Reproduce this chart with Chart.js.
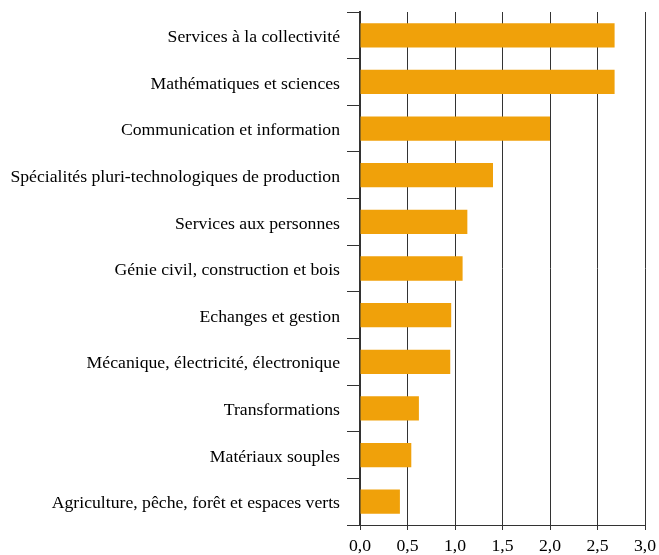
<!DOCTYPE html>
<html>
<head>
<meta charset="utf-8">
<script src="https://cdn.jsdelivr.net/npm/chart.js@4/dist/chart.umd.min.js"></script>
<style>
  html, body { margin: 0; padding: 0; background: #fff; }
  #wrap { width: 659px; height: 555px; }
</style>
</head>
<body>
<div id="wrap"><canvas id="myChart" width="659" height="555"></canvas></div>
<script>
const categories = [
    'Services à la collectivité',
    'Mathématiques et sciences',
    'Communication et information',
    'Spécialités pluri-technologiques de production',
    'Services aux personnes',
    'Génie civil, construction et bois',
    'Echanges et gestion',
    'Mécanique, électricité, électronique',
    'Transformations',
    'Matériaux souples',
    'Agriculture, pêche, forêt et espaces verts'
];
const values = [2.68, 2.68, 2.0, 1.4, 1.13, 1.08, 0.96, 0.95, 0.62, 0.54, 0.42];
const xTicks = [0, 0.5, 1, 1.5, 2, 2.5, 3];

const fontFamily = '"Liberation Serif", "Times New Roman", serif';

// keep the plot area where the reference has it
function noOverflow(scale) {
    scale.paddingTop = 0;
    scale.paddingBottom = 0;
    scale.paddingLeft = 0;
    scale.paddingRight = 0;
}

const data = {
    labels: categories,
    datasets: [{
        data: values,
        backgroundColor: '#f0a10a',
        borderWidth: 0,
        barPercentage: 0.52,
        categoryPercentage: 1.0
    }]
};

const config = {
    type: 'bar',
    data: data,
    options: {
        indexAxis: 'y',
        responsive: false,
        animation: false,
        layout: { padding: { top: 12, right: 14, left: 0, bottom: 0 } },
        plugins: {
            legend: { display: false },
            tooltip: { enabled: false }
        },
        scales: {
            x: {
                min: 0,
                max: 3,
                afterBuildTicks: function (scale) {
                    scale.ticks = xTicks.map(v => ({ value: v }));
                },
                afterFit: function (scale) {
                    scale.height = 30;
                    noOverflow(scale);
                },
                ticks: {
                    color: '#000',
                    font: { family: fontFamily, size: 17.7 },
                    padding: 6,
                    maxRotation: 0,
                    callback: function (v) {
                        return v.toFixed(1).replace('.', ',');
                    }
                },
                grid: {
                    color: '#333',
                    lineWidth: 1,
                    tickLength: 5
                },
                border: { color: '#333', width: 1 }
            },
            y: {
                afterFit: function (scale) {
                    scale.width = 360;
                    noOverflow(scale);
                },
                ticks: {
                    color: '#000',
                    font: { family: fontFamily, size: 17.7 },
                    padding: 7,
                    labelOffset: 2
                },
                grid: {
                    offset: true,
                    drawOnChartArea: false,
                    color: '#333',
                    tickLength: 13
                },
                border: { color: '#333', width: 2 }
            }
        }
    }
};

const myChart = new Chart(document.getElementById('myChart'), config);
</script>
</body>
</html>
